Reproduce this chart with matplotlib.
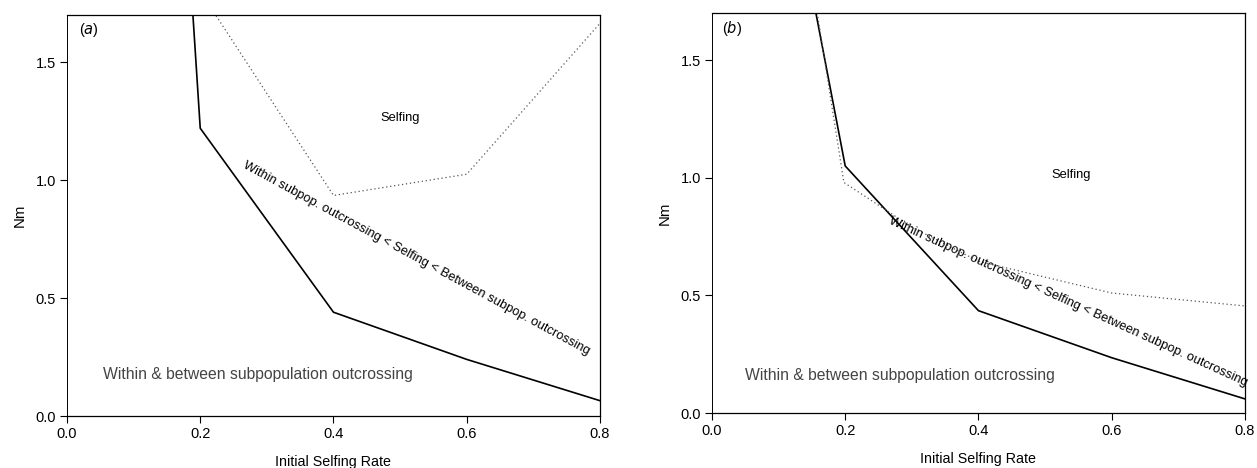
import matplotlib
matplotlib.use("Agg")
import matplotlib.pyplot as plt

plt.rcParams["font.family"] = ["Liberation Sans", "DejaVu Sans"]

# boundary curves (x = initial selfing rate, y = Nm)
a_solid_x = [0.189, 0.2, 0.4, 0.6, 0.8]
a_solid_y = [1.70, 1.22, 0.44, 0.24, 0.065]
a_dot_x = [0.2, 0.4, 0.6, 0.8]
a_dot_y = [1.80, 0.935, 1.025, 1.665]

b_solid_x = [0.156, 0.2, 0.4, 0.6, 0.8]
b_solid_y = [1.70, 1.05, 0.435, 0.235, 0.06]
b_dot_x = [0.158, 0.198, 0.3, 0.4, 0.6, 0.8]
b_dot_y = [1.70, 0.98, 0.79, 0.645, 0.51, 0.455]

xticks = [0.0, 0.2, 0.4, 0.6, 0.8]
yticks = [0.0, 0.5, 1.0, 1.5]

mid_text = "Within subpop. outcrossing < Selfing < Between subpop. outcrossing"
low_text = "Within & between subpopulation outcrossing"

fig = plt.figure(figsize=(12.57, 4.68), dpi=100)
ax_a = fig.add_axes([0.0533, 0.1111, 0.4240, 0.8568])
ax_b = fig.add_axes([0.5664, 0.1175, 0.4240, 0.8547])

panels = [
    (ax_a, "a", a_solid_x, a_solid_y, a_dot_x, a_dot_y,
     (0.47, 1.263), (0.525, 0.67, -28.5), (0.054, 0.174)),
    (ax_b, "b", b_solid_x, b_solid_y, b_dot_x, b_dot_y,
     (0.51, 1.01), (0.534, 0.47, -24.5), (0.0495, 0.161)),
]

for ax, tag, sx, sy, dx, dy, self_pos, mid_pos, low_pos in panels:
    ax.plot(sx, sy, color="black", linewidth=1.2)
    ax.plot(dx, dy, color="#555555", linewidth=0.9, linestyle=(0, (1, 2.2)))
    ax.set_xlim(0, 0.8)
    ax.set_ylim(0, 1.7)
    ax.set_xticks(xticks)
    ax.set_yticks(yticks)
    ax.set_xticklabels([f"{t:.1f}" for t in xticks])
    ax.set_yticklabels([f"{t:.1f}" for t in yticks])
    ax.tick_params(labelsize=10.5, length=5, width=0.8, direction="out", pad=3)
    for s in ax.spines.values():
        s.set_linewidth(0.9)
    ax.spines["left"].set_linewidth(0.7)
    ax.set_xlabel("Initial Selfing Rate", fontsize=10.3, labelpad=10)
    ax.set_ylabel("Nm", fontsize=10.8, labelpad=6)

    ax.text(0.018 if tag == "a" else 0.015, 1.636, f"(${tag}$)",
            fontsize=10.5, ha="left", va="center")
    ax.text(self_pos[0], self_pos[1], "Selfing", fontsize=9.3,
            ha="left", va="center")
    ax.text(mid_pos[0], mid_pos[1], mid_text, fontsize=9.3,
            rotation=mid_pos[2], rotation_mode="anchor",
            ha="center", va="center", clip_on=False)
    ax.text(low_pos[0], low_pos[1], low_text, fontsize=11.3,
            color="#444444", ha="left", va="center")

fig.savefig("out.png", dpi=100)
